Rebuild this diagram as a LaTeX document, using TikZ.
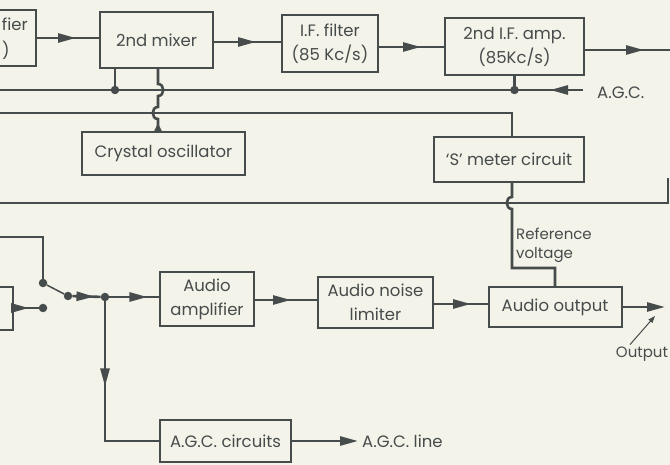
\documentclass[tikz,border=0pt]{standalone}
\usepackage{fontspec}
\setmainfont{Poppins}
\usetikzlibrary{arrows.meta,decorations.markings,calc}
\definecolor{paper}{RGB}{244,243,233}
\definecolor{ink}{RGB}{70,75,75}
\begin{document}
\begin{tikzpicture}[x=1pt,y=-1pt,color=ink,
  box/.style={draw=ink,line width=2pt,rectangle,inner sep=0pt,align=center,
    font=\fontsize{16.5}{24}\selectfont},
  lbl/.style={inner sep=0pt,font=\fontsize{16.5}{20}\selectfont},
  wire/.style={draw=ink,line width=2.6pt},
  dot/.style={circle,fill=ink,inner sep=0pt,minimum size=8.5pt},
  mid arrow/.style={postaction={decorate,decoration={markings,
    mark=at position #1 with {\arrow{Triangle[length=18pt,width=9pt]}}}}},
  small arrow/.style={postaction={decorate,decoration={markings,
    mark=at position #1 with {\arrow{Triangle[length=8pt,width=7pt]}}}}},
  tip/.style={-{Triangle[length=18pt,width=9pt]}}]
\fill[paper] (0,0) rectangle (670,465);
\useasboundingbox (0,0) rectangle (670,465);
\clip (0,0) rectangle (670,465);

% boxes
\node[box,minimum width=100pt,minimum height=56pt] (amp1) at (-14,38) {};
\node[lbl,anchor=east] (amp1a) at (28,24) {fier};
\node[lbl,anchor=west] (amp1b) at (2,50) {)};
\node[box,minimum width=113pt,minimum height=56pt] (mixer) at (156.5,40) {2nd mixer};
\node[box,minimum width=96pt,minimum height=57pt] (iff) at (330,43.5) {I.F. filter\\(85 Kc/s)};
\node[box,minimum width=139pt,minimum height=57pt] (ifamp) at (514.5,46.5) {2nd I.F. amp.\\(85Kc/s)};
\node[box,minimum width=163pt,minimum height=43pt] (xtal) at (163.5,153.5) {Crystal oscillator};
\node[box,minimum width=150pt,minimum height=45pt] (smeter) at (509,159.5) {`S' meter circuit};
\node[box,minimum width=94pt,minimum height=54pt] (aamp) at (207,299) {Audio\\amplifier};
\node[box,minimum width=115pt,minimum height=51pt] (anl) at (375.5,302.5) {Audio noise\\limiter};
\node[box,minimum width=133pt,minimum height=40pt] (aout) at (555,307) {Audio output};
\node[box,minimum width=131pt,minimum height=42pt] (agcc) at (225.5,441) {A.G.C. circuits};
\node[box,minimum width=60pt,minimum height=43pt] (src) at (-17,308.5) {};

% helper coordinates
\coordinate (y42) at (0,42);
\coordinate (y47) at (0,47);
\coordinate (ifout) at (672,50);
\coordinate (agcL) at (0,90);
\coordinate (agcR) at (583,90);
\coordinate (smL) at (0,113);
\coordinate (smC) at (512,113);
\coordinate (l3L) at (0,203);
\coordinate (l3R) at (668,203);
\coordinate (l3T) at (668,178);
\coordinate (xc) at (158,0);
\coordinate (rv) at (512,268);
\coordinate (swin) at (0,237);
\coordinate (y300) at (0,300);
\coordinate (y304) at (0,304);
\coordinate (outR) at (665,307);
\coordinate (ptr) at (655,316);
\coordinate (agcend) at (358,441);

% top row signal path
\draw[wire,mid arrow=39pt] (amp1.east) -- (mixer.west |- amp1.east);
\draw[wire,mid arrow=42pt] (mixer.east |- y42) -- (iff.west |- y42);
\draw[wire,mid arrow=42pt] (iff.east |- y47) -- (ifamp.west |- y47);
\draw[wire,mid arrow=59pt] (ifamp.east |- ifout) -- (ifout);

% AGC line
\draw[wire,mid arrow=33pt] (agcR) -- (agcL);
\node[lbl,anchor=west] (agclbl) at (597,93) {A.G.C.};
\node[dot] (jm) at (115,90) {};
\draw[wire] (jm) -- (jm |- mixer.south);
\node[dot] (ja) at (ifamp.south |- agcL) {};
\draw[wire] (ja) -- (ifamp.south);

% crystal oscillator feed to mixer with hops
\draw[wire,small arrow=8pt] (xc |- xtal.north) -- (158,119)
  .. controls (151,119) and (151,107) .. (158,107) -- (158,96)
  .. controls (165,96) and (165,84) .. (158,84) -- (xc |- mixer.south);

% S meter feed
\draw[wire] (smL) -- (smC) -- (smC |- smeter.north);
\draw[wire] (l3L) -- (l3R) -- (l3T);
\draw[wire] (smC |- smeter.south) -- (512,197)
  .. controls (505,197) and (505,209) .. (512,209) -- (rv) -- (rv -| aout.north) -- (aout.north);
\node[lbl,anchor=north west,align=left,font=\fontsize{15}{19}\selectfont] (rvlbl) at (516,228) {Reference\\voltage};

% switch
\node[dot] (c1) at (43,283) {};
\node[dot] (c2) at (43,308) {};
\node[dot] (cm) at (68,296) {};
\node[dot] (j) at (105,297) {};
\draw[wire] (swin) -- (swin -| c1) -- (c1);
\draw[draw=ink,line width=1.5pt] (c1) -- (cm);
\draw[wire,mid arrow=15pt] (src.east |- c2) -- (c2);

% audio chain
\draw[wire,mid arrow=22pt] (cm) -- (j);
\draw[wire,mid arrow=38pt] (j) -- (aamp.west |- j);
\draw[wire,mid arrow=36pt] (aamp.east |- y300) -- (anl.west |- y300);
\draw[wire,mid arrow=37pt] (anl.east |- y304) -- (aout.west |- y304);
\draw[wire,tip] (aout.east) -- (outR);
\node[lbl,font=\fontsize{15}{19}\selectfont] (outlbl) at (642,354) {Output};
\draw[line width=1pt,-{Triangle[length=7pt,width=5pt]}] ($(outlbl.north)+(-12,-2)$) -- (ptr);

% AGC circuits
\draw[wire,mid arrow=85pt] (j) -- (j |- agcc.west) -- (agcc.west);
\draw[wire,tip] (agcc.east) -- (agcend);
\node[lbl,anchor=west] (agcline) at (362,441) {A.G.C. line};
\end{tikzpicture}
\end{document}
